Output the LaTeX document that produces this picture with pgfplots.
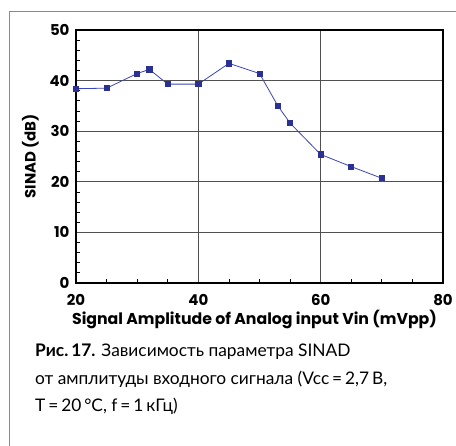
\documentclass[border=0pt]{standalone}
\usepackage{pgfplots}
\pgfplotsset{compat=1.18}
\usepackage{fontspec}
\setmainfont{Lato}
\newfontfamily\axisfont{Poppins}
\definecolor{linec}{HTML}{3A46B4}
\definecolor{markc}{HTML}{2B3192}
\definecolor{gridc}{HTML}{505050}
\definecolor{framec}{HTML}{8A8A8A}
\begin{document}
\begin{tikzpicture}[x=1bp,y=1bp]
\useasboundingbox (0,0) rectangle (456,446);
\draw[framec,line width=1bp] (9.5,0) -- (9.5,434.5) -- (456,434.5);
\begin{axis}[
  at={(76bp,163bp)}, anchor=south west,
  scale only axis, width=367bp, height=253bp,
  xmin=20, xmax=80, ymin=0, ymax=50,
  xtick={20,40,60,80}, ytick={0,10,20,30,40,50},
  minor xtick={25,30,35,45,50,55,65,70,75},
  minor ytick={2,4,6,8,12,14,16,18,22,24,26,28,32,34,36,38,42,44,46,48},
  grid=major,
  major grid style={gridc, line width=0.8bp},
  axis line style={black, line width=1.4bp},
  tick style={black, line width=0.8bp},
  major tick length=0pt, minor tick length=4bp,
  tick align=inside,
  xtick pos=bottom, ytick pos=left,
  /pgf/number format/assume math mode=true,
  ticklabel style={font=\axisfont\bfseries\fontsize{15}{15}\selectfont},
  xticklabel style={yshift=-8bp},
  yticklabel style={xshift=-3bp},
  xlabel={Signal Amplitude of Analog input Vin (mVpp)},
  ylabel={SINAD (dB)},
  label style={font=\axisfont\bfseries\fontsize{15}{15}\selectfont},
  xlabel style={yshift=3bp, xshift=-5bp, font=\axisfont\bfseries\fontsize{15.8}{15.8}\selectfont},
  ylabel style={yshift=4bp},
]
\addplot[linec, line width=0.8bp, mark=square*, mark size=2.6bp,
  mark options={fill=markc, draw=markc}] coordinates {
  (20,38.4) (25,38.5) (30,41.4) (32,42.2) (35,39.3) (40,39.3)
  (45,43.4) (50,41.4) (53,35.0) (55,31.6) (60,25.4) (65,23.0) (70,20.7)
};
\end{axis}
\node[anchor=base west, inner sep=0pt, font=\fontsize{17.4}{17.4}\selectfont] at (35,89)
  {\textbf{Рис.\,17.} Зависимость параметра SINAD};
\node[anchor=base west, inner sep=0pt, font=\fontsize{17.4}{17.4}\selectfont] at (35,61)
  {от амплитуды входного сигнала (Vcc\,=\,2,7\,В,};
\node[anchor=base west, inner sep=0pt, font=\fontsize{17.4}{17.4}\selectfont] at (35,34)
  {Т\,=\,20\,°С, f\,=\,1\,кГц)};
\end{tikzpicture}
\end{document}
